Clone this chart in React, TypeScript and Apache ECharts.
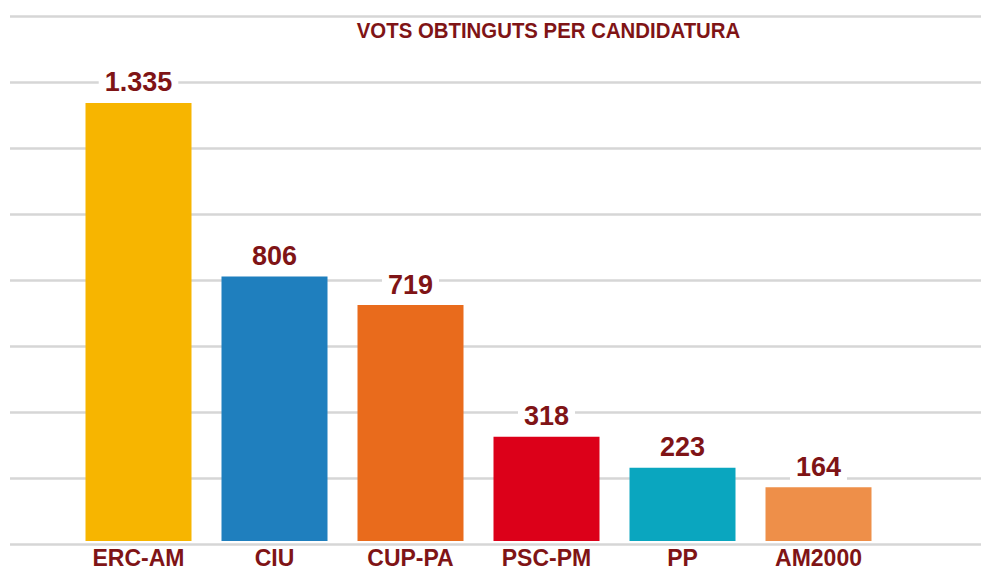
import React, { useEffect, useRef } from "react";
import * as echarts from "echarts";

const categories = ["ERC-AM", "CIU", "CUP-PA", "PSC-PM", "PP", "AM2000"];
const votes = [1335, 806, 719, 318, 223, 164];
const voteLabels = ["1.335", "806", "719", "318", "223", "164"];
const barColors = ["#F7B500", "#1F7FBE", "#E96B1C", "#DC0019", "#0AA6BF", "#EE8F49"];
const titleText = "VOTS OBTINGUTS PER CANDIDATURA";

const textColor = "#7F1416";

export default function App() {
  const ref = useRef<HTMLDivElement>(null);
  useEffect(() => {
    if (!ref.current) return;
    const chart = echarts.init(ref.current, null, { renderer: "svg" });
    chart.setOption({
      animation: false,
      backgroundColor: "#ffffff",
      graphic: [
        {
          type: "text",
          x: 548.5,
          y: 30,
          scaleX: 0.887,
          style: {
            text: titleText,
            fill: textColor,
            font: "bold 23px 'Liberation Sans', Arial, sans-serif",
            align: "center",
            verticalAlign: "middle",
          },
        },
      ],
      grid: [
        { left: 10, right: 0, top: 16, bottom: 25 },
        { left: 70.5, width: 816, top: 16, bottom: 25 },
      ],
      xAxis: [
        { type: "category", gridIndex: 0, data: [], show: false },
        {
          type: "category",
          gridIndex: 1,
          data: categories,
          axisLine: { show: false },
          axisTick: { show: false },
          axisLabel: {
            color: textColor,
            fontFamily: "Liberation Sans",
            fontWeight: "bold",
            fontSize: 23,
            margin: 5,
            verticalAlign: "top",
          },
        },
      ],
      yAxis: [
        {
          type: "value",
          gridIndex: 0,
          min: 0,
          max: 1600,
          interval: 200,
          axisLabel: { show: false },
          axisLine: { show: false },
          axisTick: { show: false },
          splitLine: { lineStyle: { color: "#d6d6d6", width: 2.5 } },
        },
        {
          type: "value",
          gridIndex: 1,
          min: 0,
          max: 1600,
          interval: 200,
          show: false,
          splitLine: { show: false },
        },
      ],
      series: [
        {
          type: "bar",
          xAxisIndex: 1,
          yAxisIndex: 1,
          barWidth: 106,
          data: votes.map((v, i) => ({ value: v, itemStyle: { color: barColors[i] } })),
          label: {
            show: true,
            position: "top",
            distance: 7,
            formatter: (p: any) => voteLabels[p.dataIndex],
            color: textColor,
            fontFamily: "Liberation Sans",
            fontWeight: "bold",
            fontSize: 27,
            backgroundColor: "#ffffff",
            padding: [1, 6, 0, 6],
          },
        },
      ],
    });
    return () => chart.dispose();
  }, []);
  return (
    <div
      ref={ref}
      style={{ position: "fixed", left: 0, top: 0, width: 981, height: 569 }}
    />
  );
}
